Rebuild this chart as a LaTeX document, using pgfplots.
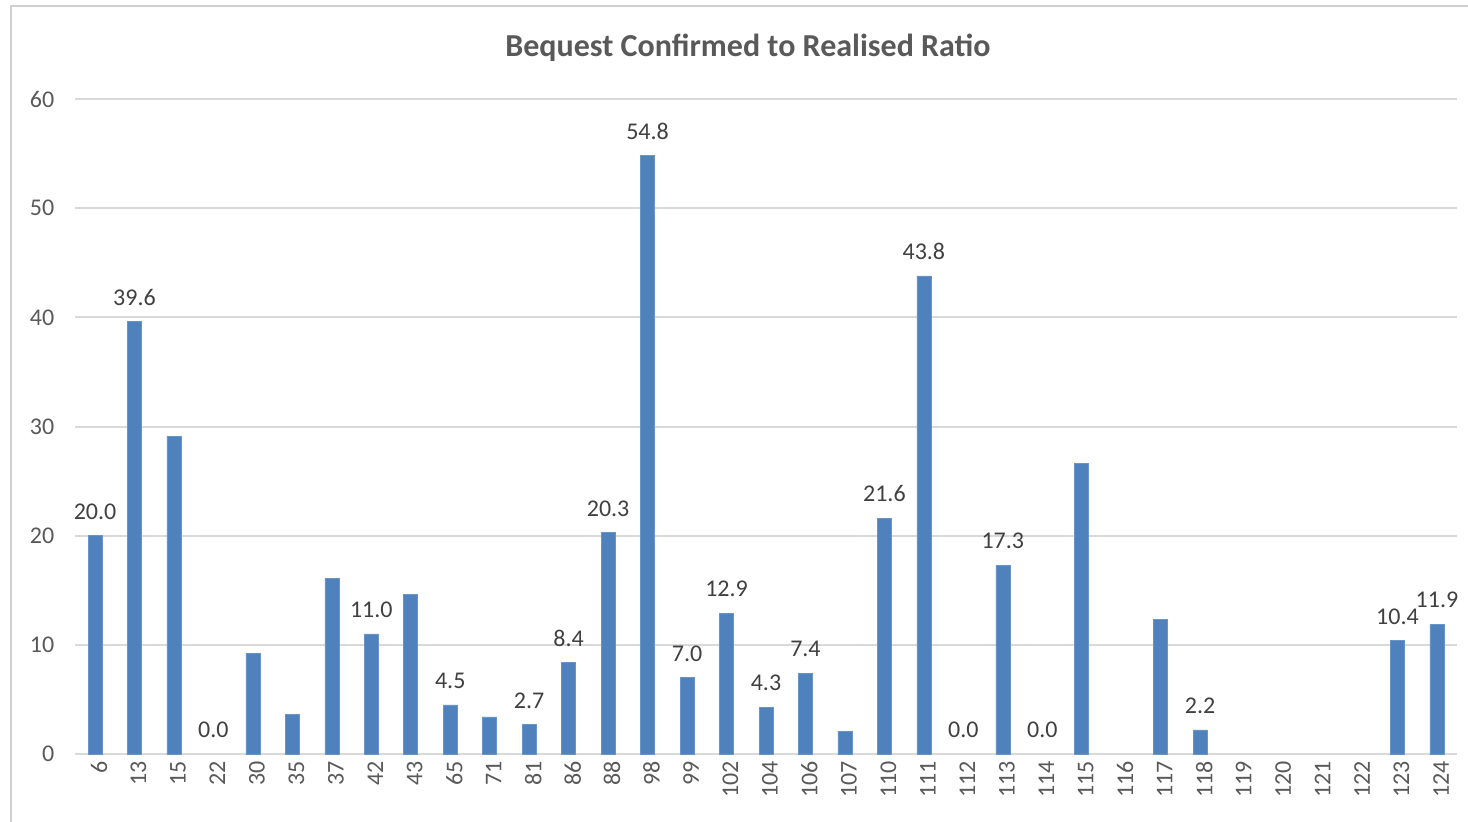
\documentclass[border=0pt]{standalone}
\usepackage{fontspec}
\setmainfont{Carlito}
\usepackage{pgfplots}
\pgfplotsset{compat=1.18}
\definecolor{barblue}{HTML}{4F81BD}
\definecolor{gridgray}{HTML}{D9D9D9}
\definecolor{framegray}{HTML}{D0D0D0}
\definecolor{ticktext}{HTML}{595959}
\definecolor{labeltext}{HTML}{404040}

\begin{document}
\begin{tikzpicture}[x=1pt,y=1pt]
\useasboundingbox (0,0) rectangle (734,410.5);
\draw[framegray, line width=1pt] (5.5,-2) -- (5.5,407.5) -- (740,407.5);
\node[font=\fontsize{16}{18}\selectfont\bfseries, text=ticktext] at (374,386.5) {Bequest Confirmed to Realised Ratio};
\begin{axis}[
  at={(37.65pt,33.5pt)}, anchor=south west,
  scale only axis, width=690.7pt, height=327.5pt,
  xmin=-0.5, xmax=34.5, ymin=0, ymax=60,
  ytick={0,10,20,30,40,50,60},
  xtick={0,...,34},
  xticklabels={6,13,15,22,30,35,37,42,43,65,71,81,86,88,98,99,102,104,106,107,110,111,112,113,114,115,116,117,118,119,120,121,122,123,124},
  axis line style={draw=none},
  major tick length=0pt,
  ymajorgrids,
  grid style={gridgray, line width=1pt},
  /pgf/number format/assume math mode=true,
  ticklabel style={font=\fontsize{12}{14}\selectfont, text=ticktext},
  yticklabel style={xshift=-7pt},
  xticklabel style={rotate=90, anchor=east, yshift=-2pt},
  clip=false,
]
\addplot[ybar, bar width=7pt, bar shift=0pt, fill=barblue, draw=barblue!85!white, line width=0.3pt]
  coordinates {
  (0,20.0) (1,39.6) (2,29.1) (4,9.2) (5,3.6) (6,16.1) (7,11.0) (8,14.6)
  (9,4.5) (10,3.4) (11,2.7) (12,8.4) (13,20.3) (14,54.8) (15,7.0) (16,12.9)
  (17,4.3) (18,7.4) (19,2.1) (20,21.6) (21,43.8) (23,17.3)
  (25,26.6) (27,12.3) (28,2.2) (33,10.4) (34,11.9)
  };
\addplot[ybar, bar width=7pt, bar shift=0pt, draw=none, fill=none,
  nodes near coords={\pgfmathprintnumber[fixed,fixed zerofill,precision=1,assume math mode=true]{\pgfplotspointmeta}},
  every node near coord/.append style={font=\fontsize{12}{14}\selectfont, text=labeltext, anchor=south, yshift=4.5pt}]
  coordinates {
  (0,20.0) (1,39.6) (3,0.0) (7,11.0) (9,4.5) (11,2.7) (12,8.4) (13,20.3)
  (14,54.8) (15,7.0) (16,12.9) (17,4.3) (18,7.4) (20,21.6) (21,43.8)
  (22,0.0) (23,17.3) (24,0.0) (28,2.2) (33,10.4) (34,11.9)
  };
\end{axis}
\end{tikzpicture}
\end{document}
